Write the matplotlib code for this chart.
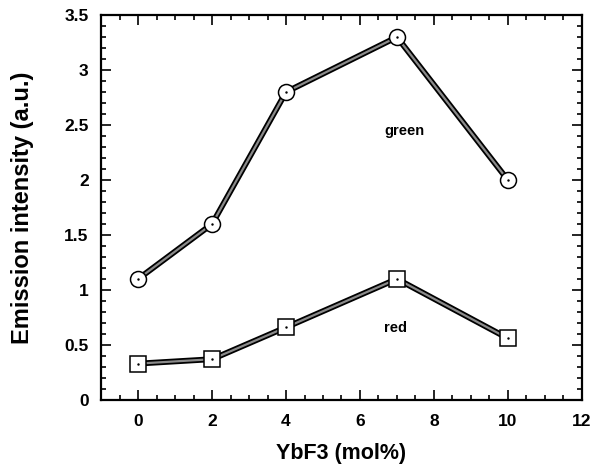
import matplotlib
matplotlib.use('Agg')
import matplotlib.pyplot as plt
import matplotlib.patheffects as pe
from matplotlib.ticker import MultipleLocator

plt.rcParams['font.family'] = ['Liberation Sans', 'DejaVu Sans']
plt.rcParams['font.weight'] = 'bold'

# YbF3 content (mol%) and emission intensities
ybf3 = [0, 2, 4, 7, 10]
green = [1.1, 1.6, 2.8, 3.3, 2.0]
red = [0.33, 0.37, 0.66, 1.1, 0.56]

fig = plt.figure(figsize=(6.06, 4.71), dpi=100)
ax = fig.add_axes([0.167, 0.151, 0.793, 0.817])

line_fx = [pe.Stroke(linewidth=4.2, foreground='black'), pe.Normal()]
for vals, mk in [(green, 'o'), (red, 's')]:
    ax.plot(ybf3, vals, color='#8a8a8a', lw=1.6, path_effects=line_fx, zorder=2)
    ax.plot(ybf3, vals, ls='none', marker=mk, ms=11.5, mfc='white', mec='black',
            mew=1.1, zorder=3)
    ax.plot(ybf3, vals, ls='none', marker='.', ms=1.5, color='black', zorder=4)

ax.text(7.2, 2.45, 'green', fontsize=10.5, fontweight='bold', ha='center', va='center')
ax.text(6.95, 0.65, 'red', fontsize=10.5, fontweight='bold', ha='center', va='center')

ax.set_xlim(-1, 12)
ax.set_ylim(0, 3.5)
ax.xaxis.set_major_locator(MultipleLocator(2))
ax.xaxis.set_minor_locator(MultipleLocator(0.5))
ax.yaxis.set_major_locator(MultipleLocator(0.5))
ax.yaxis.set_minor_locator(MultipleLocator(0.1))
ax.yaxis.set_major_formatter(plt.FuncFormatter(lambda v, p: f'{v:g}'))

ax.tick_params(which='both', direction='in', top=True, right=True, width=1.2)
ax.tick_params(which='major', length=7, labelsize=12.5)
ax.tick_params(axis='x', which='major', pad=10)
ax.tick_params(axis='y', which='major', pad=9)
ax.tick_params(which='minor', length=3.5)
for s in ax.spines.values():
    s.set_linewidth(1.6)

ax.set_xlabel('YbF3 (mol%)', fontsize=15.5, fontweight='bold')
ax.set_ylabel('Emission intensity (a.u.)', fontsize=17, fontweight='bold')
ax.xaxis.set_label_coords(0.5, -0.112)
ax.yaxis.set_label_coords(-0.14, 0.5)

fig.savefig('out.png', dpi=100)
